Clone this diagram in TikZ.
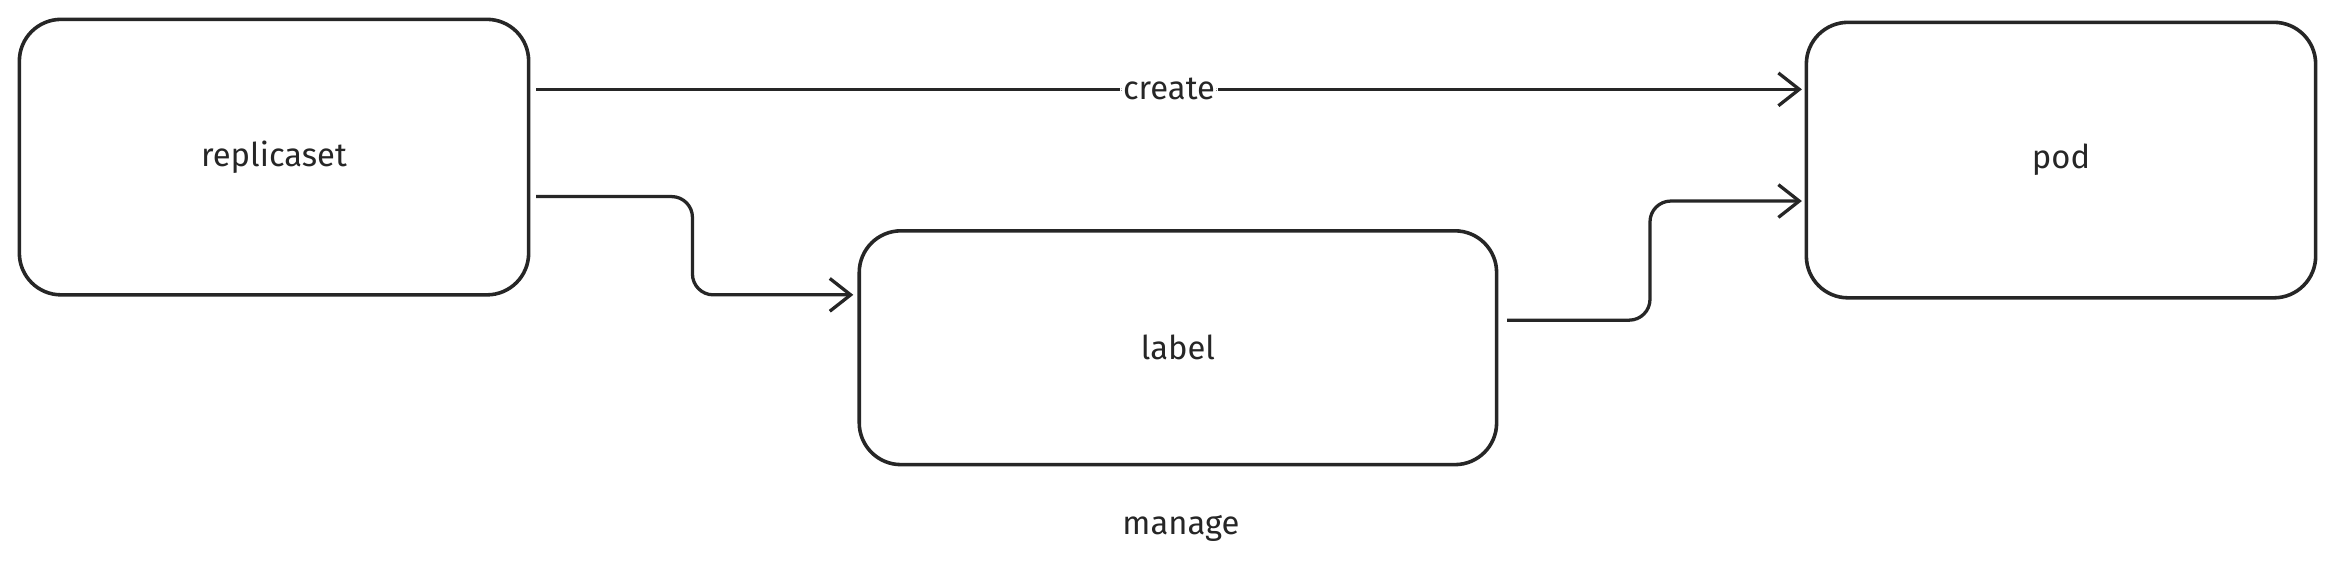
\documentclass[tikz,border=0pt]{standalone}
\usepackage{fontspec}
\setmainfont{Fira Sans}
\usetikzlibrary{arrows.meta}
\begin{document}
\begin{tikzpicture}[x=1pt,y=-1pt,
  box/.style={draw=black!85,line width=2.4pt,rounded corners=28pt,inner sep=0pt},
  conn/.style={draw=black!85,line width=2.2pt,-{Straight Barb[length=14pt,width=22pt,line width=2.2pt]},rounded corners=14pt},
  lbl/.style={font=\fontsize{22}{26}\selectfont,text=black!85}]
\useasboundingbox (0,0) rectangle (1568,385);
\fill[white] (0,0) rectangle (1568,385);
\node[box,minimum width=342pt,minimum height=185pt] (rs) at (184,105.5) {};
\node[lbl] at (rs.center) {replicaset};
\node[box,minimum width=342pt,minimum height=185pt] (pod) at (1384,107.5) {};
\node[lbl] at (pod.center) {pod};
\node[box,minimum width=428pt,minimum height=157pt] (lab) at (791,233.5) {};
\node[lbl] at (lab.center) {label};
\node[lbl] (mg) at (793,355) {manage};
\coordinate (a1) at (360,60);
\coordinate (a2) at (1210,60);
\draw[conn] (a1) -- node[lbl,fill=white,inner sep=2pt] (cr) {create} (a2);
\coordinate (b1) at (360,132);
\coordinate (b2) at (573,198);
\draw[conn] (b1) -- (465,132) -- (465,198) -- (b2);
\coordinate (c1) at (1012,215);
\coordinate (c2) at (1210,135);
\draw[conn] (c1) -- (1108,215) -- (1108,135) -- (c2);
\end{tikzpicture}
\end{document}
